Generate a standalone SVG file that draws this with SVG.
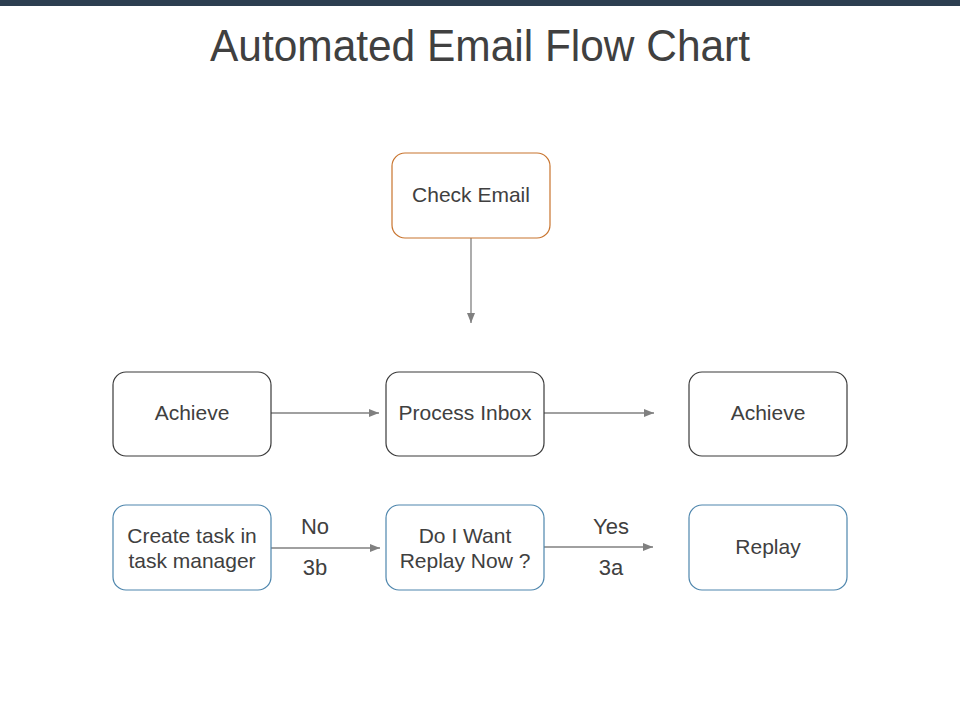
<svg xmlns="http://www.w3.org/2000/svg" width="960" height="720" viewBox="0 0 960 720">
<style>
.box{fill:#fff;stroke-width:1.2}
.dark{stroke:#3a3a3a}
.orange{stroke:#c8742e}
.blue{stroke:#4e86ad}
.t{font-family:Arial,"Liberation Sans",sans-serif;font-size:21px;fill:#404040;text-anchor:middle}
.lbl{font-family:Arial,"Liberation Sans",sans-serif;font-size:22px;fill:#404040;text-anchor:middle}
.conn{stroke:#808080;stroke-width:1.3;fill:none;marker-end:url(#ah)}
</style>
<defs>
<marker id="ah" viewBox="0 0 10 10" refX="10" refY="5" markerWidth="10" markerHeight="10" markerUnits="userSpaceOnUse" orient="auto">
<path d="M0,1 L10,5 L0,9 Z" fill="#808080"/>
</marker>
</defs>
<rect x="0" y="0" width="960" height="6" fill="#2c3e50"/>
<text x="480" y="61" font-family="Arial,'Liberation Sans',sans-serif" font-size="45" fill="#404040" text-anchor="middle" textLength="540" lengthAdjust="spacingAndGlyphs">Automated Email Flow Chart</text>
<g id="connectors">
<line class="conn" x1="471" y1="238" x2="471" y2="323"/>
<line class="conn" x1="271" y1="413" x2="379" y2="413"/>
<line class="conn" x1="544" y1="413" x2="654" y2="413"/>
<line class="conn" x1="271" y1="548" x2="380" y2="548"/>
<line class="conn" x1="544" y1="547" x2="653" y2="547"/>
<text class="lbl" x="315" y="534">No</text>
<text class="lbl" x="315" y="575">3b</text>
<text class="lbl" x="611" y="534">Yes</text>
<text class="lbl" x="611" y="575">3a</text>
</g>
<g id="check-email">
<rect class="box orange" x="392" y="153" width="158" height="85" rx="13"/>
<text class="t" x="471" y="202">Check Email</text>
</g>
<g id="achieve-left">
<rect class="box dark" x="113" y="372" width="158" height="84" rx="13"/>
<text class="t" x="192" y="420">Achieve</text>
</g>
<g id="process-inbox">
<rect class="box dark" x="386" y="372" width="158" height="84" rx="13"/>
<text class="t" x="465" y="420">Process Inbox</text>
</g>
<g id="achieve-right">
<rect class="box dark" x="689" y="372" width="158" height="84" rx="13"/>
<text class="t" x="768" y="420">Achieve</text>
</g>
<g id="create-task">
<rect class="box blue" x="113" y="505" width="158" height="85" rx="13"/>
<text class="t" x="192" y="543">Create task in</text>
<text class="t" x="192" y="568">task manager</text>
</g>
<g id="want-replay">
<rect class="box blue" x="386" y="505" width="158" height="85" rx="13"/>
<text class="t" x="465" y="543">Do I Want</text>
<text class="t" x="465" y="568">Replay Now ?</text>
</g>
<g id="replay">
<rect class="box blue" x="689" y="505" width="158" height="85" rx="13"/>
<text class="t" x="768" y="554">Replay</text>
</g>
</svg>
